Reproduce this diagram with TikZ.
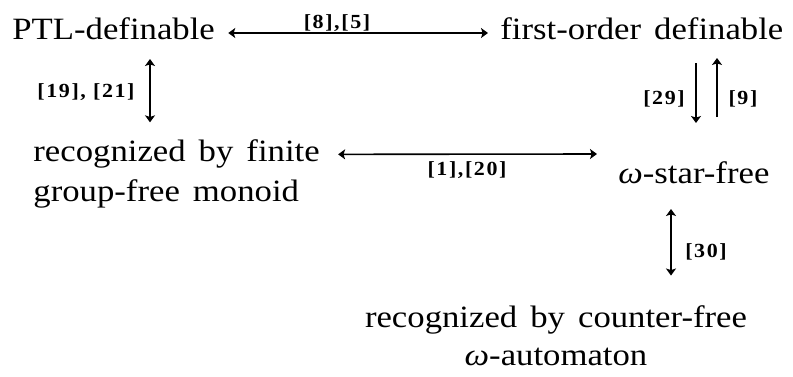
\documentclass[tikz,border=0pt]{standalone}
\usepackage{fontspec}
\setmainfont{Liberation Serif}[FakeStretch=1.12, WordSpace=1.5]
\newfontfamily\citefont{Liberation Serif}[FakeStretch=1.1, LetterSpace=8]
\usetikzlibrary{arrows.meta,calc}

\begin{document}
\begin{tikzpicture}[x=0.5pt, y=-0.5pt,
  >={Stealth[length=3.5pt,width=5pt,inset=0.8pt]},
  every node/.style={inner sep=0pt},
  term/.style={font=\fontsize{15.5}{20}\selectfont},
  cite/.style={font=\citefont\bfseries\fontsize{10}{11}\selectfont},
  link/.style={line width=0.8pt}]

\useasboundingbox (0,0) rectangle (793,376);

% statements
\node[term, anchor=base west] (ptl) at (12,39) {PTL-definable};
\node[term, anchor=base west] (fo)  at (500,39) {first-order definable};
\node[term, anchor=west, align=left] (gf) at (33,174)
  {recognized by finite\\group-free monoid};
\node[term, anchor=base west] (sf) at (618,183) {{\itshape ω}-star-free};
\node[term, anchor=center, align=center, font=\fontsize{15.5}{19}\selectfont] (cf) at (556,336)
  {recognized by counter-free\\{\itshape ω}-automaton};

% implications
\draw[link, <->] ($(ptl.base east)+(13,-6)$) -- ($(fo.base west)+(-12,-6)$);
\draw[link, <->] ($(ptl.base west)+(138,20)$) -- ($(gf.north west)+(117,-17)$);
\draw[link, ->]  ($(fo.base west)+(196,24)$) -- ($(sf.base west)+(78,-60)$);
\draw[link, ->]  ($(sf.base west)+(99,-66)$) -- ($(fo.base west)+(217,19)$);
\draw[link, <->] ($(gf.north east)+(18,15)$) -- ($(sf.base west)+(-21,-29)$);
\draw[link, <->] ($(sf.base west)+(53,26)$) -- ($(cf.north)+(115,-30)$);

% references
\node[cite] (c1) at (337,23)  {[8],[5]};
\node[cite] (c2) at (86,92)   {[19], [21]};
\node[cite] (c3) at (664,99)  {[29]};
\node[cite] (c4) at (743,99)  {[9]};
\node[cite] (c5) at (467,170) {[1],[20]};
\node[cite] (c6) at (706,252) {[30]};

\end{tikzpicture}
\end{document}
